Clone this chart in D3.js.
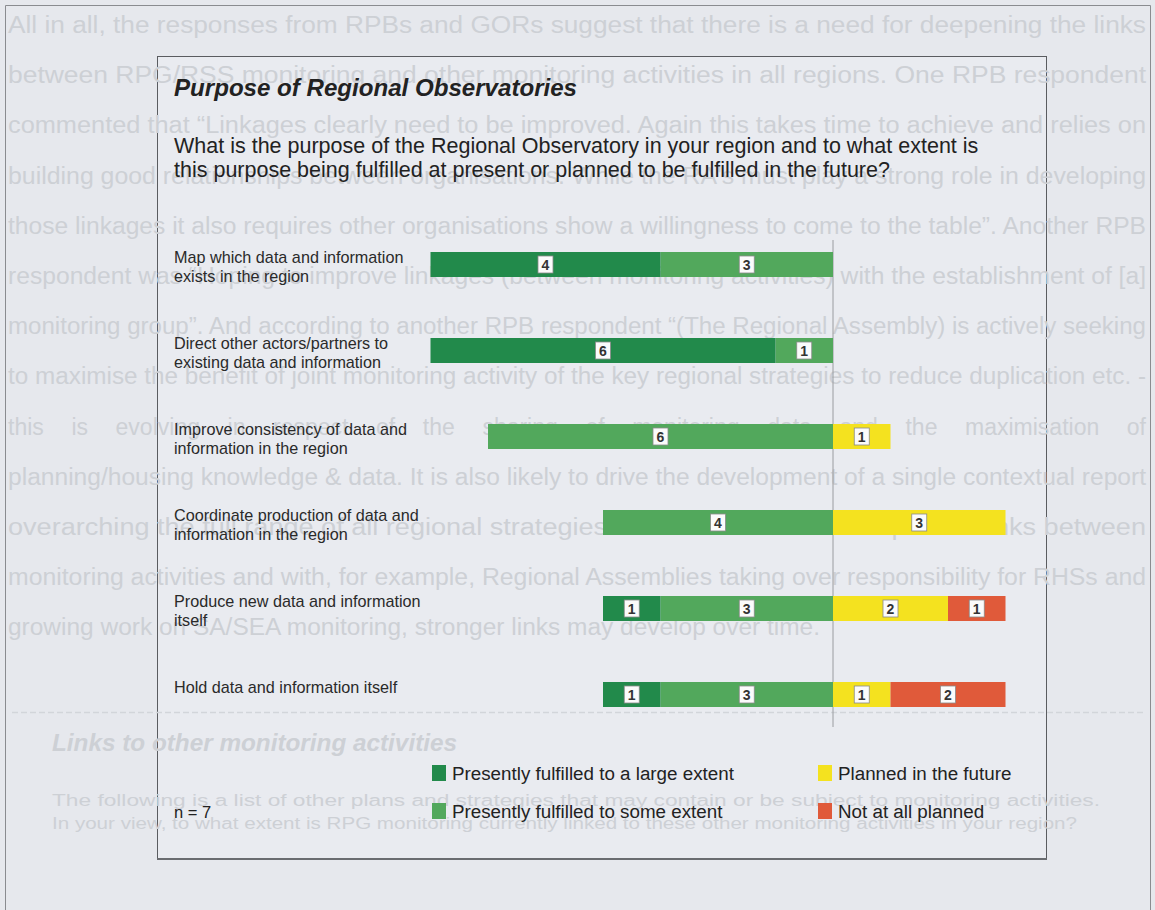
<!DOCTYPE html>
<html>
<head>
<meta charset="utf-8">
<script src="https://cdn.jsdelivr.net/npm/d3@7/dist/d3.min.js"></script>
<style>
  html, body { margin: 0; padding: 0; background: #e6e8ed; }
  svg { display: block; font-family: "Liberation Sans", Arial, sans-serif; }
</style>
</head>
<body>
<svg id="chart" width="1155" height="910"></svg>
<script>
// ---- data ----
const categories = [
  ["Map which data and information", "exists in the region"],
  ["Direct other actors/partners to", "existing data and information"],
  ["Improve consistency of data and", "information in the region"],
  ["Coordinate production of data and", "information in the region"],
  ["Produce new data and information", "itself"],
  ["Hold data and information itself"]
];
const largeExtent = [4, 6, 0, 0, 1, 1];
const someExtent  = [3, 1, 6, 4, 3, 3];
const plannedFuture = [0, 0, 1, 3, 2, 1];
const notPlanned  = [0, 0, 0, 0, 1, 2];
const seriesNames = ["Presently fulfilled to a large extent", "Presently fulfilled to some extent",
                     "Planned in the future", "Not at all planned"];
const seriesColors = ["#228a4b", "#52a85c", "#f4e21f", "#e05a3a"];
const titleText = "Purpose of Regional Observatories";
const questionLines = [
  "What is the purpose of the Regional Observatory in your region and to what extent is",
  "this purpose being fulfilled at present or planned to be fulfilled in the future?"
];
const nText = "n = 7";

// faint show-through text of the underlying page
const ghostLines = [
  "All in all, the responses from RPBs and GORs suggest that there is a need for deepening the links",
  "between RPG/RSS monitoring and other monitoring activities in all regions. One RPB respondent",
  "commented that \u201cLinkages clearly need to be improved. Again this takes time to achieve and relies on",
  "building good relationships between organisations. While the RA's must play a strong role in developing",
  "those linkages it also requires other organisations show a willingness to come to the table\u201d. Another RPB",
  "respondent was \u201cHoping to improve linkages (between monitoring activities) with the establishment of [a]",
  "monitoring group\u201d. And according to another RPB respondent \u201c(The Regional Assembly) is actively seeking",
  "to maximise the benefit of joint monitoring activity of the key regional strategies to reduce duplication etc. -",
  "this is evolving in respect of the sharing of monitoring data and the maximisation of",
  "planning/housing knowledge & data. It is also likely to drive the development of a single contextual report",
  "overarching the full range of all regional strategies\u201d. RPBs tend to seek improved links between",
  "monitoring activities and with, for example, Regional Assemblies taking over responsibility for RHSs and",
  "growing work on SA/SEA monitoring, stronger links may develop over time."
];
const ghostHeading = "Links to other monitoring activities";
const ghostQuestion = [
  "The following is a list of other plans and strategies that may contain or be subject to monitoring activities.",
  "In your view, to what extent is RPG monitoring currently linked to these other monitoring activities in your region?"
];

// ---- drawing ----
const svg = d3.select("#chart");
const W = 1155, H = 910;
svg.append("rect").attr("width", W).attr("height", H).attr("fill", "#e6e8ed");

// outer page frame
svg.append("path").attr("d", "M5.5,910 V5.5 H1150.5 V910")
  .attr("fill", "none").attr("stroke", "#8a8c90").attr("stroke-width", 1);

// chart box
const box = {x: 157, y: 56, w: 889, h: 802};
svg.append("rect").attr("x", box.x + 0.5).attr("y", box.y + 0.5).attr("width", box.w).attr("height", box.h)
  .attr("fill", "#e9ebf0").attr("stroke", "#5a5c60").attr("stroke-width", 1);
svg.append("line").attr("x1", box.x).attr("x2", box.x + box.w + 1).attr("y1", box.y + box.h + 1).attr("y2", box.y + box.h + 1)
  .attr("stroke", "#6a6c70").attr("stroke-width", 2);

// ghost text (show-through from the other side of the page)
const ghost = svg.append("g").attr("fill", "#cdd0d5");
ghostLines.forEach((t, i) => {
  const tx = ghost.append("text").attr("x", 8).attr("y", 33 + i * 50.2)
    .attr("font-size", 23).text(t);
  if (i === 8) {
    const natural = tx.node().getComputedTextLength();
    const spaces = (t.match(/ /g) || []).length;
    tx.attr("word-spacing", Math.max(0, (1138 - natural) / spaces));
  } else if (i < ghostLines.length - 1) {
    tx.attr("textLength", 1138).attr("lengthAdjust", "spacingAndGlyphs");
  } else {
    tx.attr("textLength", 812).attr("lengthAdjust", "spacingAndGlyphs");
  }
});
svg.append("line").attr("x1", 12).attr("x2", 1145).attr("y1", 712.5).attr("y2", 712.5)
  .attr("stroke", "#d2d5da").attr("stroke-width", 1.5).attr("stroke-dasharray", "6,3");
ghost.append("text").attr("x", 52).attr("y", 751).attr("font-size", 23)
  .attr("font-weight", "bold").attr("font-style", "italic").attr("textLength", 405)
  .attr("lengthAdjust", "spacingAndGlyphs").text(ghostHeading);
ghostQuestion.forEach((t, i) => {
  ghost.append("text").attr("x", 52).attr("y", 806 + i * 23).attr("font-size", 16)
    .attr("textLength", i === 0 ? 1048 : 1025).attr("lengthAdjust", "spacingAndGlyphs").text(t);
});

// titles
svg.append("text").attr("x", 174).attr("y", 96).attr("font-size", 24.1)
  .attr("font-weight", "bold").attr("font-style", "italic").attr("fill", "#222").text(titleText);
questionLines.forEach((t, i) => {
  svg.append("text").attr("x", 174).attr("y", 153 + i * 24).attr("font-size", 21.5)
    .attr("fill", "#222").text(t);
});

// scales
const x = d3.scaleLinear().domain([-7, 3]).range([430.5, 1005.5]);
const y = d3.scalePoint().domain(d3.range(categories.length)).range([264.5, 694.5]);
const barH = 25;

// zero line
svg.append("line").attr("x1", x(0)).attr("x2", x(0)).attr("y1", 240).attr("y2", 727)
  .attr("stroke", "#9a9ca0").attr("stroke-width", 1);

// category labels
categories.forEach((lines, i) => {
  const t = svg.append("text").attr("x", 174).attr("font-size", 16.2).attr("fill", "#2a2a2a");
  lines.forEach((l, j) => {
    t.append("tspan").attr("x", 174).attr("y", y(i) - 2 + j * 19).text(l);
  });
});

// segments
const rows = categories.map((c, i) => {
  const segs = [];
  segs.push({s: 1, v: someExtent[i], x0: -someExtent[i], x1: 0});
  segs.push({s: 0, v: largeExtent[i], x0: -someExtent[i] - largeExtent[i], x1: -someExtent[i]});
  segs.push({s: 2, v: plannedFuture[i], x0: 0, x1: plannedFuture[i]});
  segs.push({s: 3, v: notPlanned[i], x0: plannedFuture[i], x1: plannedFuture[i] + notPlanned[i]});
  return segs.filter(d => d.v > 0).map(d => Object.assign(d, {row: i}));
});
const segData = rows.flat();

const g = svg.append("g");
g.selectAll("rect.seg").data(segData).join("rect").attr("class", "seg")
  .attr("x", d => x(d.x0)).attr("width", d => x(d.x1) - x(d.x0))
  .attr("y", d => y(d.row) - barH / 2).attr("height", barH)
  .attr("fill", d => seriesColors[d.s]);

const lab = g.selectAll("g.lab").data(segData).join("g").attr("class", "lab")
  .attr("transform", d => `translate(${(x(d.x0) + x(d.x1)) / 2},${y(d.row)})`);
lab.append("rect").attr("x", -7.5).attr("y", -8.5).attr("width", 15).attr("height", 17)
  .attr("fill", "#fbfbfb").attr("stroke", "#8a8a8a").attr("stroke-width", 0.8);
lab.append("text").attr("text-anchor", "middle").attr("y", 5).attr("font-size", 14)
  .attr("font-weight", "bold").attr("fill", "#333").text(d => d.v);

// legend
const legendPos = [[432, 773], [432, 811], [818, 773], [818, 811]];
seriesNames.forEach((n, i) => {
  const [lx, ly] = legendPos[i];
  svg.append("rect").attr("x", lx).attr("y", ly - 8).attr("width", 14).attr("height", 16)
    .attr("fill", seriesColors[i]);
  svg.append("text").attr("x", lx + 20).attr("y", ly + 6.5).attr("font-size", 18.8)
    .attr("fill", "#222").text(n);
});
svg.append("text").attr("x", 174).attr("y", 818).attr("font-size", 16.5).attr("fill", "#222").text(nText);
</script>
</body>
</html>
